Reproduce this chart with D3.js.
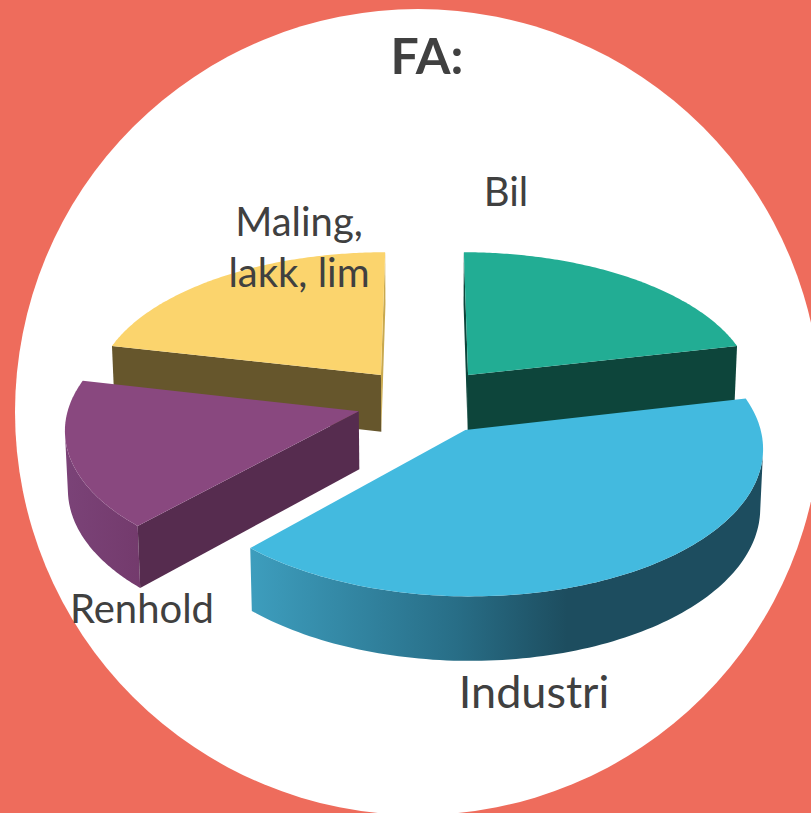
<!DOCTYPE html>
<html lang="en">
<head>
    <meta charset="UTF-8">
    <title>FA: 3D pie with D3.js</title>
    <script src="https://d3js.org/d3.v7.min.js"></script>
    <style>
        html, body {
            margin: 0;
            padding: 0;
            background: #ee6c5c;
        }
        svg {
            display: block;
        }
        text {
            font-family: Lato, "Open Sans", sans-serif;
            fill: #404040;
        }
    </style>
</head>
<body>
<svg id="chart" width="811" height="813"></svg>

<script>
    const categories = ["Bil", "Industri", "Renhold", "Maling, lakk, lim"];
    const shares = [21.5, 40.4, 16.6, 21.5];
    const topColors = ["#22ad94", "#43badf", "#89487f", "#fbd46d"];
    const startWallColors = ["#0d453b", "#1d4d5f", "#562c4f", "#66562c"];
    const endWallColors = ["#0d453b", "#1d4d5f", "#562c4f", "#c9a94f"];
    const outerWallColors = ["#0d453b", "url(#wall-industri)", "url(#wall-renhold)", "#66562c"];

    const width = 811;
    const height = 813;

    // fake camera for the tilted pie
    const view = { cx: 424.5, cy: 397, radius: 288, tilt: 0.488, dist: 2650, depth: 58, sink: 0.37 };
    // how far each slice is pulled out, on the pie's own plane
    const pull = [[44.3, -46], [39.8, 66], [-65, 29], [-44.3, -46]];

    const project = (x, y, z) => {
        const s = view.dist / (view.dist - y + z * view.sink);
        return [view.cx + x * s, view.cy + (view.tilt * y + z) * s];
    };

    const svg = d3.select("#chart")
        .attr("width", width)
        .attr("height", height);

    const defs = svg.append("defs");

    function addGradient(id, x1, x2, stops) {
        const g = defs.append("linearGradient")
            .attr("id", id)
            .attr("gradientUnits", "userSpaceOnUse")
            .attr("x1", x1).attr("y1", 0)
            .attr("x2", x2).attr("y2", 0);
        stops.forEach(s => g.append("stop").attr("offset", s[0]).attr("stop-color", s[1]));
    }
    addGradient("wall-industri", 252, 760, [[0, "#3d9dbd"], [0.4, "#286e87"], [0.62, "#1d4d5f"], [1, "#1d4d5f"]]);
    addGradient("wall-renhold", 62, 145, [[0, "#7b4378"], [1, "#733a6c"]]);

    svg.append("circle")
        .attr("cx", 418)
        .attr("cy", 412)
        .attr("r", 403)
        .attr("fill", "#fff");

    const line = d3.line();

    const slices = d3.pie().sort(null).value(d => d)(shares);

    // top and bottom edge of a wall joined into one outline
    const wallOf = (pts) => pts.map(p => project(p[0], p[1], 0))
        .concat(pts.slice().reverse().map(p => project(p[0], p[1], view.depth)));

    // positive area means the wall looks towards the camera
    const facesCamera = (pts) => d3.polygonArea(wallOf(pts)) > 0;

    // back slices first so the front ones cover them
    const drawOrder = [3, 0, 2, 1];

    drawOrder.forEach(i => {
        const d = slices[i];
        const ox = pull[i][0];
        const oy = pull[i][1];

        const angles = d3.range(0, 121).map(k => d.startAngle + (d.endAngle - d.startAngle) * k / 120);
        const rim = angles.map(a => [ox + Math.sin(a) * view.radius, oy - Math.cos(a) * view.radius]);
        const apex = [ox, oy];
        const last = rim.length - 1;

        const g = svg.append("g").attr("class", "slice");

        const startWall = [apex, rim[0]];
        const endWall = [rim[last], apex];
        const outerWall = rim.filter((p, j) =>
            (j < last && facesCamera([rim[j], rim[j + 1]])) || (j > 0 && facesCamera([rim[j - 1], rim[j]])));

        if (outerWall.length > 1) {
            g.append("path")
                .attr("d", line(wallOf(outerWall)) + "Z")
                .attr("fill", outerWallColors[i]);
        }
        if (facesCamera(startWall)) {
            g.append("path")
                .attr("d", line(wallOf(startWall)) + "Z")
                .attr("fill", startWallColors[i]);
        }
        if (facesCamera(endWall)) {
            g.append("path")
                .attr("d", line(wallOf(endWall)) + "Z")
                .attr("fill", endWallColors[i]);
        }

        g.append("path")
            .attr("d", line([apex].concat(rim).map(p => project(p[0], p[1], 0))) + "Z")
            .attr("fill", topColors[i]);
    });

    // labels
    svg.append("text")
        .attr("x", 427)
        .attr("y", 74)
        .attr("text-anchor", "middle")
        .style("font-size", "50px")
        .style("font-weight", "bold")
        .text("FA:");

    const labelSize = "40px";
    svg.append("text").attr("x", 506).attr("y", 206).attr("text-anchor", "middle")
        .style("font-size", labelSize).text(categories[0]);
    svg.append("text").attr("x", 534).attr("y", 708).attr("text-anchor", "middle")
        .style("font-size", "45px").text(categories[1]);
    svg.append("text").attr("x", 142).attr("y", 623).attr("text-anchor", "middle")
        .style("font-size", labelSize).text(categories[2]);

    const maling = svg.append("text").attr("text-anchor", "middle").style("font-size", labelSize);
    maling.append("tspan").attr("x", 299).attr("y", 236).text("Maling,");
    maling.append("tspan").attr("x", 299).attr("y", 287).text("lakk, lim");
</script>
</body>
</html>
